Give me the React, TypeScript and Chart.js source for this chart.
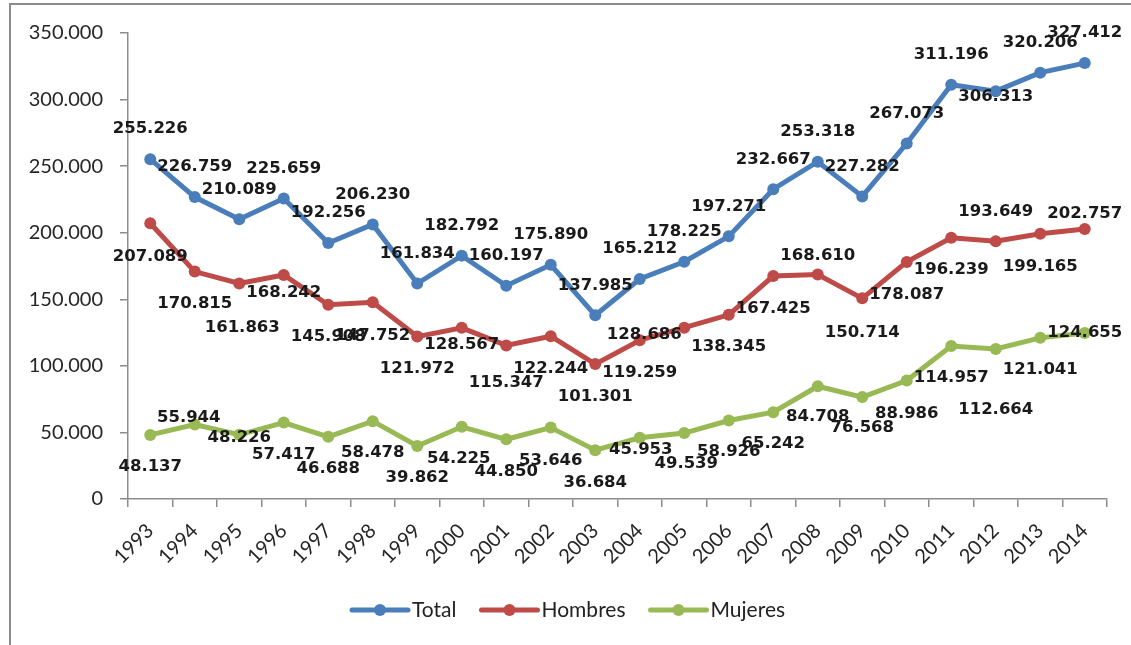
import React, { useEffect, useRef } from "react";
import { Chart, registerables } from "chart.js";

Chart.register(...registerables);

const years = ["1993","1994","1995","1996","1997","1998","1999","2000","2001","2002","2003","2004","2005","2006","2007","2008","2009","2010","2011","2012","2013","2014"];

const total = [255226,226759,210089,225659,192256,206230,161834,182792,160197,175890,137985,165212,178225,197271,232667,253318,227282,267073,311196,306313,320206,327412];
const hombres = [207089,170815,161863,168242,145908,147752,121972,128567,115347,122244,101301,119259,128686,138345,167425,168610,150714,178087,196239,193649,199165,202757];
const mujeres = [48137,55944,48226,57417,46688,58478,39862,54225,44850,53646,36684,45953,49539,58926,65242,84708,76568,88986,114957,112664,121041,124655];

const seriesNames = ["Total", "Hombres", "Mujeres"];
const yTicks = [0, 50000, 100000, 150000, 200000, 250000, 300000, 350000];

// label placement (layout only, px relative to the point)
const labelDyTotal = [-30,-30,-30,-30,-30,-30,-30,-30,-30,-30,-30,-30,-30,-30,-30,-30,-30,-30,-30,6,-30,-30];
const labelDxTotal = [0,0,0,0,0,0,0,0,0,0,0,0,0,0,0,0,0,0,0,0,0,0];
const labelDyHombres = [33,32,44,18,32,33,32,17,37,32,33,33,7,32,33,-19,34,33,32,-29,33,-15];
const labelDxHombres = [0,0,3,0,0,0,0,0,0,0,0,0,-40,0,0,0,0,0,0,0,0,0];
const labelDyMujeres = [32,-7,3,32,32,32,32,32,32,33,33,12,31,31,32,31,31,33,32,61,32,0];
const labelDxMujeres = [0,-6,0,0,0,0,0,-3,0,0,0,1,2,0,0,0,0,0,0,0,0,0];

const fmt = (v: number) => String(v).replace(/\B(?=(\d{3})+(?!\d))/g, ".");

const COLORS = ["#4A7EBB", "#BE4B48", "#98B954"];

export default function App() {
  const ref = useRef<HTMLCanvasElement | null>(null);

  useEffect(() => {
    const canvas = ref.current;
    if (!canvas) return;
    const dxs = [labelDxTotal, labelDxHombres, labelDxMujeres];
    const dys = [labelDyTotal, labelDyHombres, labelDyMujeres];

    const labelPlugin = {
      id: "valueLabels",
      afterDatasetsDraw(chart: any) {
        const ctx = chart.ctx;
        ctx.save();
        ctx.font = "bold 16.5px 'DejaVu Sans'";
        ctx.fillStyle = "#1a1a1a";
        ctx.textAlign = "center";
        ctx.textBaseline = "middle";
        chart.data.datasets.forEach((ds: any, di: number) => {
          const meta = chart.getDatasetMeta(di);
          meta.data.forEach((el: any, i: number) => {
            ctx.fillText(fmt(ds.data[i]), el.x + dxs[di][i], el.y + dys[di][i]);
          });
        });
        ctx.restore();
      },
    };

    const legendPlugin = {
      id: "customLegend",
      afterDraw(chart: any) {
        const ctx = chart.ctx;
        ctx.save();
        ctx.font = "21px Lato";
        ctx.textBaseline = "middle";
        ctx.textAlign = "left";
        const y = 610;
        let x = 352;
        chart.data.datasets.forEach((ds: any) => {
          ctx.strokeStyle = ds.borderColor;
          ctx.lineWidth = 5;
          ctx.lineCap = "round";
          ctx.beginPath();
          ctx.moveTo(x, y);
          ctx.lineTo(x + 56, y);
          ctx.stroke();
          ctx.fillStyle = ds.borderColor;
          ctx.beginPath();
          ctx.arc(x + 28, y, 6, 0, Math.PI * 2);
          ctx.fill();
          ctx.fillStyle = "#222";
          ctx.fillText(ds.label, x + 60, y);
          x += 60 + ctx.measureText(ds.label).width + 25;
        });
        ctx.restore();
      },
    };

    const mk = (label: string, data: number[], color: string) => ({
      label,
      data,
      borderColor: color,
      backgroundColor: color,
      pointBackgroundColor: color,
      pointBorderColor: color,
      borderWidth: 5,
      pointRadius: 6,
      pointBorderWidth: 0,
      tension: 0,
    });

    const axisColor = "#8c8c8c";
    const chart = new Chart(canvas, {
      type: "line",
      data: {
        labels: years,
        datasets: [
          mk(seriesNames[0], total, COLORS[0]),
          mk(seriesNames[1], hombres, COLORS[1]),
          mk(seriesNames[2], mujeres, COLORS[2]),
        ],
      },
      options: {
        responsive: false,
        animation: false,
        layout: { padding: { top: 33, right: 24, left: 0, bottom: 0 } },
        plugins: { legend: { display: false }, tooltip: { enabled: false } },
        scales: {
          x: {
            offset: true,
            grid: { offset: true, drawOnChartArea: false, drawTicks: true, tickLength: 8, color: axisColor, lineWidth: 1.5 },
            border: { display: true, color: axisColor, width: 1.5 },
            ticks: { minRotation: 45, maxRotation: 45, autoSkip: false, font: { family: "Lato", size: 20 }, color: "#262626", padding: 12 },
            afterFit: (s: any) => { s.height = 146; },
          },
          y: {
            min: 0,
            max: 350000,
            afterBuildTicks: (s: any) => { s.ticks = yTicks.map((v) => ({ value: v })); },
            grid: { drawOnChartArea: false, drawTicks: true, tickLength: 8, color: axisColor, lineWidth: 1.5 },
            border: { display: true, color: axisColor, width: 1.5 },
            ticks: { font: { family: "Lato", size: 20 }, color: "#262626", padding: 17, callback: (v: any) => fmt(Number(v)) },
            afterFit: (s: any) => { s.width = 128; },
          },
        },
      },
      plugins: [labelPlugin, legendPlugin],
    } as any);
    return () => chart.destroy();
  }, []);

  return (
    <div style={{ position: "fixed", left: 0, top: 0, width: 1131, height: 645, background: "#fff", overflow: "hidden" }}>
      <div style={{ position: "absolute", left: 9, top: 3, width: 1300, height: 800, border: "2px solid #8c8c8c", boxSizing: "border-box" }} />
      <canvas ref={ref} width={1131} height={645} style={{ position: "absolute", left: 0, top: 0, width: 1131, height: 645 }} />
    </div>
  );
}
